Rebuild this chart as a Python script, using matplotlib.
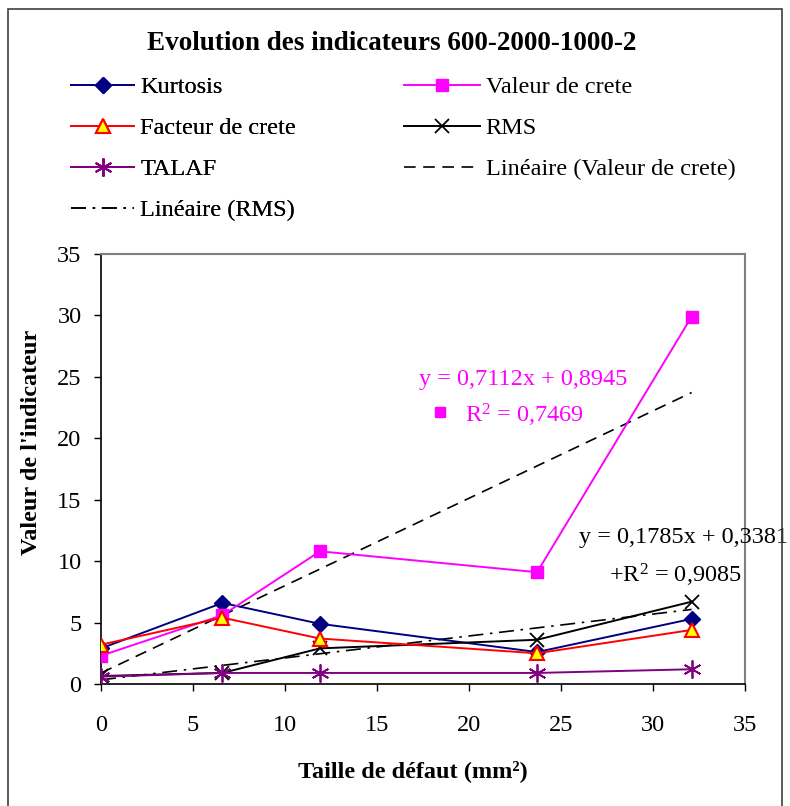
import numpy as np
import matplotlib
matplotlib.use("Agg")
import matplotlib.pyplot as plt
from matplotlib.patches import Rectangle

plt.rcParams['font.family'] = ['Liberation Serif', 'DejaVu Serif']
plt.rcParams['mathtext.fontset'] = 'custom'
plt.rcParams['mathtext.rm'] = 'Liberation Serif'
plt.rcParams['mathtext.it'] = 'Liberation Serif:italic'

# Defect sizes (mm²) and indicator values
taille = [0, 6.6, 11.9, 23.7, 32.1]
kurtosis = [2.9, 6.6, 4.9, 2.6, 5.3]
valeur_crete = [2.3, 5.6, 10.8, 9.1, 29.9]
facteur_crete = [3.2, 5.4, 3.7, 2.5, 4.4]
rms = [0.65, 0.9, 2.9, 3.6, 6.7]
talaf = [0.6, 0.9, 0.9, 0.9, 1.2]

# Linear trend coefficients (slope, intercept, R²)
trend_crete = (0.7112, 0.8945, 0.7469)
trend_rms = (0.1785, 0.3381, 0.9085)

xticks = [0, 5, 10, 15, 20, 25, 30, 35]
yticks = [0, 5, 10, 15, 20, 25, 30, 35]

W, H = 790, 806
fig = plt.figure(figsize=(W / 100, H / 100), dpi=100)
ax = fig.add_axes([101 / W, 1 - 684 / H, (745 - 101) / W, (684 - 254) / H])

FS = 17.5
lw = 1.4

l_kurt, = ax.plot(taille, kurtosis, color='#000080', lw=lw, marker='D',
                  markersize=8, markerfacecolor='#000080', markeredgecolor='#000080',
                  label='Kurtosis', zorder=4)
l_vc, = ax.plot(taille, valeur_crete, color='#FF00FF', lw=lw, marker='s',
                markersize=8, markerfacecolor='#FF00FF', markeredgecolor='#FF00FF',
                label='Valeur de crete', zorder=4)
l_fc, = ax.plot(taille, facteur_crete, color='#FF0000', lw=lw, marker='^',
                markersize=10, markerfacecolor='#FFFF00', markeredgecolor='#FF0000',
                markeredgewidth=1.5, label='Facteur de crete', zorder=5)
l_rms, = ax.plot(taille, rms, color='black', lw=lw, marker='x',
                 markersize=10, markeredgewidth=1.3, label='RMS', zorder=4)
l_tal, = ax.plot(taille, talaf, color='#800080', lw=lw, marker=(6, 2, 0),
                 markersize=13, markeredgewidth=1.3, label='TALAF', zorder=4)

xt = np.array([taille[0], taille[-1]])
l_tvc, = ax.plot(xt, trend_crete[0] * xt + trend_crete[1], color='black', lw=1.2,
                 dashes=(7, 4.5), label='Linéaire (Valeur de crete)', zorder=3)
l_trms, = ax.plot(xt, trend_rms[0] * xt + trend_rms[1], color='black', lw=1.2,
                  dashes=(9, 4, 1.5, 4), label='Linéaire (RMS)', zorder=3)

ax.set_xlim(0, 35)
ax.set_ylim(0, 35)
ax.set_xticks(xticks)
ax.set_yticks(yticks)
ax.tick_params(direction='out', length=5, width=1, labelsize=FS, colors='black')
ax.tick_params(axis='x', pad=17)
ax.tick_params(axis='y', pad=9)
for s in ['top', 'right']:
    ax.spines[s].set_color('#808080')
    ax.spines[s].set_linewidth(1.5)
for s in ['left', 'bottom']:
    ax.spines[s].set_color('black')
    ax.spines[s].set_linewidth(1.2)

fig.text(413 / W, 1 - 771 / H, 'Taille de défaut (mm²)', fontsize=FS,
         fontweight='bold', ha='center', va='center')
fig.text(32 / W, 1 - 442 / H, "Valeur de l'indicateur", fontsize=FS,
         fontweight='bold', ha='center', va='center', rotation=90)

# Trend equations
ax.text(17.3, 24.8, 'y = 0,7112x + 0,8945', color='#FF00FF', fontsize=FS,
        va='center', ha='left', clip_on=False)
ax.plot([18.4], [22.1], marker='s', color='#FF00FF', markersize=7, clip_on=False)
ax.text(19.8, 21.9, r'R$^{2}$ = 0,7469', color='#FF00FF', fontsize=FS,
        va='center', ha='left', clip_on=False)
ax.text(26.0, 11.9, 'y = 0,1785x + 0,3381', color='black', fontsize=FS,
        va='center', ha='left', clip_on=False)
ax.text(27.6, 8.8, r'+R$^{2}$ = 0,9085', color='black', fontsize=FS,
        va='center', ha='left', clip_on=False)

fig.text(392 / W, 1 - 43 / H, 'Evolution des indicateurs 600-2000-1000-2',
         fontsize=19.5, fontweight='bold', ha='center', va='center')

# Two-column legend above the plot area
leg_kw = dict(loc='upper left', frameon=False, fontsize=FS, handletextpad=0.25,
              labelspacing=0.78, borderpad=0)
col1 = [l_kurt, l_fc, l_tal, l_trms]
col2 = [l_vc, l_rms, l_tvc]
leg1 = fig.legend(handles=col1, labels=[h.get_label() for h in col1],
                  bbox_to_anchor=(59 / W, 1 - 64 / H), handlelength=2.6, **leg_kw)
fig.legend(handles=col2, labels=[h.get_label() for h in col2],
           bbox_to_anchor=(392 / W, 1 - 64 / H), handlelength=3.1, **leg_kw)
fig.add_artist(leg1)

fig.patches.append(Rectangle((8 / W, -0.02), (782 - 8) / W, 1 - 9 / H + 0.02,
                             transform=fig.transFigure, fill=False,
                             edgecolor='#404040', lw=1.2))

fig.savefig('out.png', dpi=100)
